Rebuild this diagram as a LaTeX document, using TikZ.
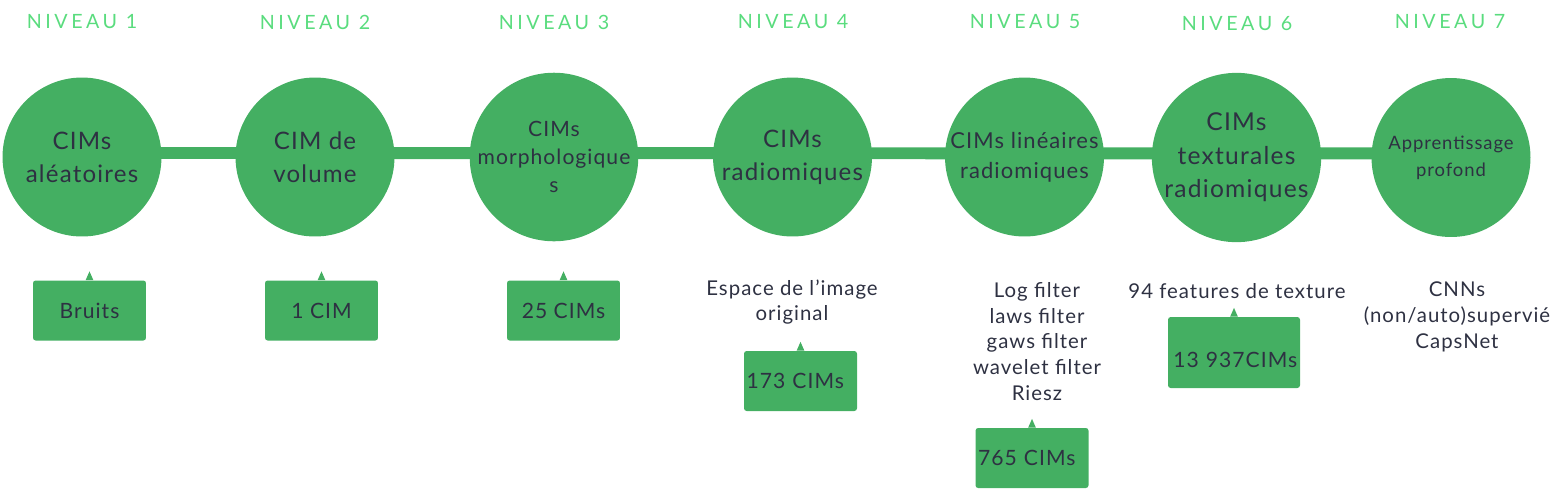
\documentclass[tikz,border=0pt]{standalone}
\usepackage{fontspec}
\setmainfont{Lato}[LetterSpace=5]
\newfontfamily\levelfont{Lato}[LetterSpace=18]
\usepackage{tikz}
\usetikzlibrary{backgrounds}

\definecolor{cimgreen}{HTML}{44AF62}
\definecolor{levelgreen}{HTML}{5ADC7E}
\definecolor{inkgray}{HTML}{2E3142}

\tikzset{
  stage/.style={circle, fill=cimgreen, text=inkgray, minimum size=3.18cm, inner sep=0pt, align=center, font=\fontsize{13.7}{18.7}\selectfont},
  level/.style={text=levelgreen, font=\levelfont\fontsize{11.2}{13}\selectfont},
  callbox/.style={fill=cimgreen, text=inkgray, rounded corners=1.5pt, minimum width=2.26cm, minimum height=1.2cm, font=\fontsize{12}{14}\selectfont},
  leftbox/.style={callbox, inner xsep=1.5pt, text width=2.26cm-3pt, align=left},
  note/.style={text=inkgray, align=center, font=\fontsize{11.6}{14.7}\selectfont},
  bar/.style={cimgreen, line width=6.8pt}
}

\begin{document}
\begin{tikzpicture}[x=0.02cm, y=-0.02cm]
                        \useasboundingbox (0, 0) rectangle (1568, 495);
                        % levels
                        \node[level] (l1) at (82, 22){NIVEAU 1};
                        \node[level] (l2) at (315, 22){NIVEAU 2};
                        \node[level] (l3) at (554, 22){NIVEAU 3};
                        \node[level] (l4) at (793, 22){NIVEAU 4};
                        \node[level] (l5) at (1025, 22){NIVEAU 5};
                        \node[level] (l6) at (1237, 24){NIVEAU 6};
                        \node[level] (l7) at (1450, 22){NIVEAU 7};
                        % stages
                        \node[stage] (s1) at (82, 157){CIMs\\aléatoires};
                        \node[stage] (s2) at (315, 157){CIM de\\volume};
                        \node[stage, font=\fontsize{12}{16}\selectfont] (s3) at (554, 157){CIMs\\morphologique\\s};
                        \node[stage] (s4) at (792.5, 157){CIMs\\radiomiques};
                        \node[stage, font=\fontsize{12.5}{17}\selectfont] (s5) at (1024.5, 157){CIMs linéaires\\radiomiques};
                        \node[stage, font=\fontsize{14}{19}\selectfont] (s6) at (1236.5, 157.5){CIMs\\texturales\\radiomiques};
                        \node[stage, font=\fontsize{10.5}{15.3}\selectfont] (s7) at (1451, 157.5){Apprentissage\\profond};
                        \begin{scope}[on background layer]
                                \draw[bar] ([yshift=2.3pt]s1.center) -- ([yshift=2.3pt]s7.center);
                        \end{scope}
                        % counts
                        \node[callbox] (b1) at (89.5, 310.5){Bruits};
                        \node[callbox] (b2) at (321.5, 310.5){1 CIM};
                        \node[callbox] (b3) at (563.5, 310.5){25 CIMs};
                        \node[leftbox] (b4) at (800.5, 381){173 CIMs};
                        \node[leftbox] (b5) at (1032, 458){765 CIMs};
                        \node[leftbox, minimum width=2.64cm, minimum height=1.42cm, text width=2.64cm-6pt, inner xsep=3pt, text height=17pt] (b6) at (1234, 352.5){13~937CIMs};
                        \foreach \b in {b1, b2, b3, b4, b5, b6}
                                \fill[cimgreen] ([xshift=-2.2pt]\b.north) -- ([yshift=5pt]\b.north) -- ([xshift=2.2pt]\b.north) -- cycle;
                        % notes
                        \node[note] (n4) at (792, 302){Espace de l\symbol{39}image\\original};
                        \node[note] (n5) at (1037, 341.5){Log filter\\laws filter\\gaws filter\\wavelet filter\\Riesz};
                        \node[note] (n6) at (1237, 291){94 features de texture};
                        \node[note] (n7) at (1457, 317){CNNs\\(non/auto)supervié\\CapsNet};
                \end{tikzpicture}
\end{document}
